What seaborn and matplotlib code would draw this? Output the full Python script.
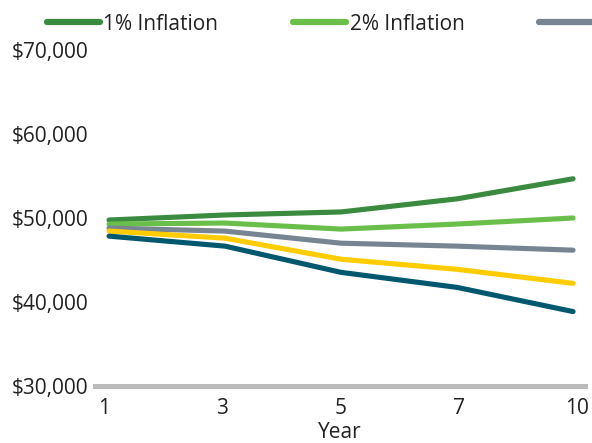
import numpy as np
import pandas as pd
import matplotlib.pyplot as plt
import seaborn as sns

sns.set_style("white")
plt.rcParams["font.family"] = ["Open Sans", "DejaVu Sans"]

years = ["1", "3", "5", "7", "10"]
series_names = ["1% Inflation", "2% Inflation", "3% Inflation", "4% Inflation", "5% Inflation"]
infl_1 = [49760, 50360, 50720, 52280, 54670]
infl_2 = [49280, 49400, 48680, 49280, 50000]
infl_3 = [48800, 48440, 47000, 46650, 46170]
infl_4 = [48440, 47600, 45090, 43890, 42220]
infl_5 = [47840, 46650, 43530, 41740, 38860]
colors = ["#3a8a3f", "#6abf4b", "#778592", "#ffcc00", "#00586f"]

rows = []
for name, vals in zip(series_names, [infl_1, infl_2, infl_3, infl_4, infl_5]):
    for yr, v in zip(years, vals):
        rows.append({"Year": yr, "Value": v, "Series": name})
df = pd.DataFrame(rows)

fig = plt.figure(figsize=(5.92, 4.43), dpi=100)
ax = fig.add_axes([95 / 592, 1 - 386 / 443, 490 / 592, 336 / 443])

sns.lineplot(data=df, x="Year", y="Value", hue="Series", palette=colors,
             linewidth=3.7, ax=ax, legend=False, sort=False)
for ln in ax.get_lines():
    ln.set_solid_capstyle("round")

ax.set_ylim(30000, 70000)
ax.set_xlim(-0.121, 4.103)
# category labels sit slightly outside the line ends, like the original
ax.set_xticks(np.linspace(-0.045, 4.035, len(years)))
ax.set_xticklabels(years)
ax.set_yticks([30000, 40000, 50000, 60000, 70000])
ax.set_yticklabels(["$30,000", "$40,000", "$50,000", "$60,000", "$70,000"])
ax.tick_params(axis="both", length=0, labelsize=15, colors="#222222")
ax.tick_params(axis="y", pad=5)
ax.tick_params(axis="x", pad=8.5)
for s in ["top", "right", "left"]:
    ax.spines[s].set_visible(False)
ax.spines["bottom"].set_color("#bbbbbb")
ax.spines["bottom"].set_linewidth(3.6)
ax.set_xlabel("Year", fontsize=15, color="#222222", labelpad=2.5)
ax.set_ylabel("")

handles = [plt.Line2D([], [], color=c, linewidth=4.5, solid_capstyle="round") for c in colors]
fig.legend(handles, series_names, loc="center left", bbox_to_anchor=(47 / 592, 1 - 24 / 443),
           ncol=5, frameon=False, fontsize=15, handlelength=2.55, handletextpad=0.15,
           columnspacing=3.6, borderpad=0, borderaxespad=0, labelcolor="#222222")

fig.savefig("out.png", dpi=100)
